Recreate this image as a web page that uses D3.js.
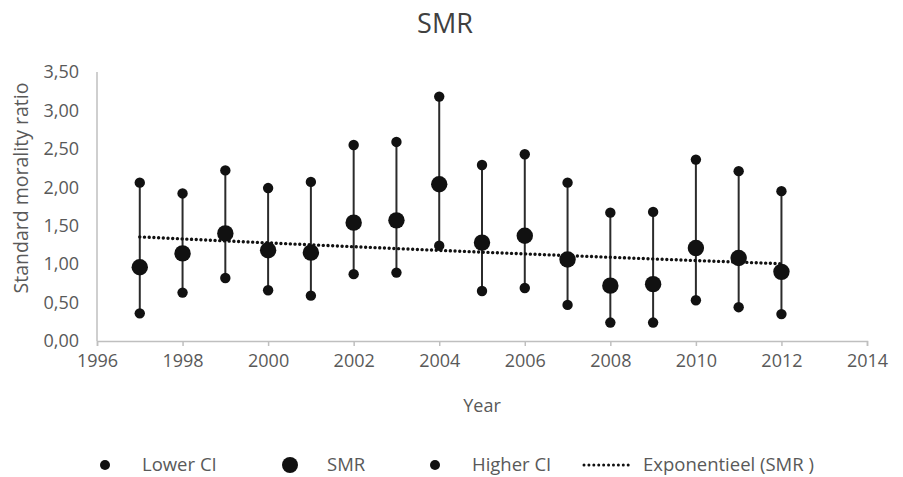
<!DOCTYPE html>
<html>
<head>
<meta charset="utf-8">
<script src="https://cdnjs.cloudflare.com/ajax/libs/d3/7.8.5/d3.min.js"></script>
<style>
body { margin: 0; background: #fff; }
text { font-family: "Open Sans", "Liberation Sans", sans-serif; fill: #595959; }
</style>
</head>
<body>
<svg id="chart" width="903" height="477"></svg>
<script>
// values
var years = [1997, 1998, 1999, 2000, 2001, 2002, 2003, 2004, 2005, 2006, 2007, 2008, 2009, 2010, 2011, 2012];
var smr = [0.96, 1.14, 1.40, 1.18, 1.15, 1.54, 1.57, 2.04, 1.28, 1.37, 1.06, 0.72, 0.74, 1.21, 1.08, 0.90];
var lowerCI = [0.36, 0.63, 0.82, 0.66, 0.59, 0.87, 0.89, 1.24, 0.65, 0.69, 0.47, 0.24, 0.24, 0.53, 0.44, 0.35];
var higherCI = [2.06, 1.92, 2.22, 1.99, 2.07, 2.55, 2.59, 3.18, 2.29, 2.43, 2.06, 1.67, 1.68, 2.36, 2.21, 1.95];
var xTicks = [1996, 1998, 2000, 2002, 2004, 2006, 2008, 2010, 2012, 2014];
var yTicks = [0, 0.5, 1, 1.5, 2, 2.5, 3, 3.5];

var svg = d3.select('#chart');
var fmt = function(d){ return d3.format('.2f')(d).replace('.', ','); };

var x = d3.scaleLinear().domain([1996, 2014]).range([97, 867]);
var y = d3.scaleLinear().domain([0, 3.5]).range([341, 72]);

// exponential trend (least squares on ln(SMR)), like the spreadsheet does
var n = years.length;
var mx = d3.mean(years);
var ly = smr.map(function(v){ return Math.log(v); });
var my = d3.mean(ly);
var sxy = 0, sxx = 0;
for (var i = 0; i < n; i++) {
	sxy += (years[i] - mx) * (ly[i] - my);
	sxx += (years[i] - mx) * (years[i] - mx);
}
var slope = sxy / sxx;
var trend = function(t){ return Math.exp(my + slope * (t - mx)); };

// title
svg.append('text')
	.attr('x', 445).attr('y', 33)
	.attr('text-anchor', 'middle')
	.attr('font-size', '27px')
	.style('fill', '#404040')
	.text('SMR');

// axes
svg.append('line')
	.attr('x1', x(1996)).attr('x2', x(1996))
	.attr('y1', y(3.5)).attr('y2', y(0))
	.attr('stroke', '#bfbfbf').attr('stroke-width', 1.5);

var xAxis = svg.append('g')
	.attr('transform', 'translate(0,' + y(0) + ')')
	.call(d3.axisBottom(x).tickValues(xTicks).tickFormat(d3.format('d')).tickSize(5).tickPadding(8));
xAxis.select('.domain').attr('stroke', '#bfbfbf').attr('stroke-width', 1.5);
xAxis.selectAll('.tick line').attr('stroke', '#bfbfbf').attr('stroke-width', 1.5);
xAxis.selectAll('text')
	.attr('font-size', '18px')
	.attr('font-family', '"Open Sans", sans-serif')
	.style('fill', '#595959');

var yAxis = svg.append('g')
	.attr('transform', 'translate(' + x(1996) + ',0)')
	.call(d3.axisLeft(y).tickValues(yTicks).tickFormat(fmt).tickSize(0).tickPadding(18));
yAxis.select('.domain').remove();
yAxis.selectAll('text')
	.attr('font-size', '18px')
	.attr('font-family', '"Open Sans", sans-serif')
	.style('fill', '#595959');

// axis titles
svg.append('text')
	.attr('x', 482).attr('y', 412)
	.attr('text-anchor', 'middle')
	.attr('font-size', '18px')
	.text('Year');

svg.append('text')
	.attr('transform', 'translate(28,188) rotate(-90)')
	.attr('text-anchor', 'middle')
	.attr('font-size', '19.5px')
	.text('Standard morality ratio');

// error bars
var rows = years.map(function(yr, i){
	return { year: yr, smr: smr[i], lo: lowerCI[i], hi: higherCI[i] };
});

svg.append('g').selectAll('line')
	.data(rows)
	.enter()
	.append('line')
	.attr('x1', function(d){ return x(d.year); })
	.attr('x2', function(d){ return x(d.year); })
	.attr('y1', function(d){ return y(d.lo); })
	.attr('y2', function(d){ return y(d.hi); })
	.attr('stroke', '#2b2b2b')
	.attr('stroke-width', 2);

// trend line
var trendLine = d3.line()
	.x(function(d){ return x(d); })
	.y(function(d){ return y(trend(d)); });

svg.append('path')
	.datum(years)
	.attr('d', trendLine)
	.attr('fill', 'none')
	.attr('stroke', '#111')
	.attr('stroke-width', 3.4)
	.attr('stroke-linecap', 'round')
	.attr('stroke-dasharray', '0.01 4.7');

// markers
var g = svg.append('g');
g.selectAll('.lo')
	.data(rows).enter().append('circle')
	.attr('class', 'lo')
	.attr('cx', function(d){ return x(d.year); })
	.attr('cy', function(d){ return y(d.lo); })
	.attr('r', 5.2)
	.attr('fill', '#111');
g.selectAll('.hi')
	.data(rows).enter().append('circle')
	.attr('class', 'hi')
	.attr('cx', function(d){ return x(d.year); })
	.attr('cy', function(d){ return y(d.hi); })
	.attr('r', 5.2)
	.attr('fill', '#111');
g.selectAll('.smr')
	.data(rows).enter().append('circle')
	.attr('class', 'smr')
	.attr('cx', function(d){ return x(d.year); })
	.attr('cy', function(d){ return y(d.smr); })
	.attr('r', 8.2)
	.attr('fill', '#111');

// legend
var legend = svg.append('g').attr('transform', 'translate(0,465)');
legend.append('circle').attr('cx', 105).attr('cy', 0).attr('r', 5).attr('fill', '#111');
legend.append('text').attr('x', 142).attr('y', 6).attr('font-size', '18.5px').text('Lower CI');
legend.append('circle').attr('cx', 290).attr('cy', 0).attr('r', 8).attr('fill', '#111');
legend.append('text').attr('x', 327).attr('y', 6).attr('font-size', '18.5px').text('SMR');
legend.append('circle').attr('cx', 435).attr('cy', 0).attr('r', 5).attr('fill', '#111');
legend.append('text').attr('x', 472).attr('y', 6).attr('font-size', '18.5px').text('Higher CI');
legend.append('line')
	.attr('x1', 584).attr('x2', 633).attr('y1', 0).attr('y2', 0)
	.attr('stroke', '#111').attr('stroke-width', 3)
	.attr('stroke-linecap', 'round').attr('stroke-dasharray', '0.01 4.9');
legend.append('text').attr('x', 643).attr('y', 6).attr('font-size', '18.5px').text('Exponentieel (SMR )');
</script>
</body>
</html>
